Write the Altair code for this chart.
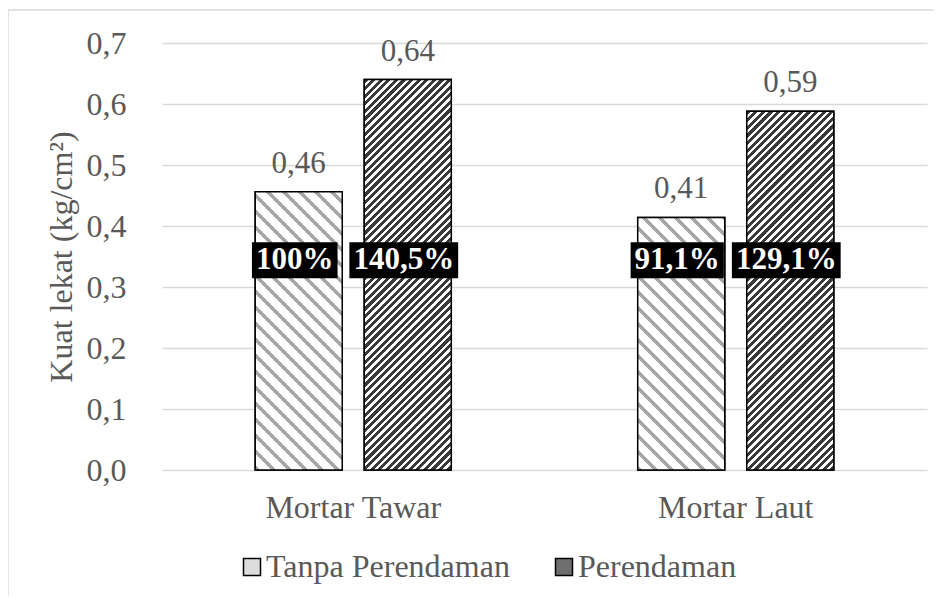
import math
import altair as alt
import pandas as pd

# ---- data ----
groups = ["Mortar Tawar", "Mortar Tawar", "Mortar Laut", "Mortar Laut"]
series = ["Tanpa Perendaman", "Perendaman", "Tanpa Perendaman", "Perendaman"]
values = [0.456, 0.640, 0.414, 0.588]
value_labels = ["0,46", "0,64", "0,41", "0,59"]
pct_labels = ["100%", "140,5%", "91,1%", "129,1%"]

group_order = ["Mortar Tawar", "Mortar Laut"]
series_order = ["Tanpa Perendaman", "Perendaman"]
y_ticks = [0.0, 0.1, 0.2, 0.3, 0.4, 0.5, 0.6, 0.7]

# ---- style ----
FONT = "'Liberation Serif', Tinos, 'Times New Roman', Times, 'DejaVu Serif', serif"
GREY_TXT = "#595959"
W, H = 765, 427
YMAX = 0.7
PX = H / YMAX
BAR_W = 87
PCT_LEVEL = 0.344

df = pd.DataFrame({"group": groups, "series": series, "value": values,
                   "vlabel": value_labels, "plabel": pct_labels})
df["idx"] = list(range(len(df)))


def box_path(label, fs=31, pad=4, dx=-4, half_h=18):
    em = sum(1.0 if ch == "%" else 0.25 if ch == "," else 0.5 for ch in label)
    w = em * fs + 2 * pad
    l, r = -w / 2 + dx, w / 2 + dx
    return f"M{l:.1f},{-half_h}H{r:.1f}V{half_h}H{l:.1f}Z"


df["box"] = df["plabel"].map(box_path)


def hatch(h, period, frac, fg, bg, direction):
    w = BAR_W
    n = (w + h) / period
    k = (w + h) / (w * w + h * h)
    if direction == "down":
        x1, y1, x2, y2 = 0, 1, k * w, 1 - k * h
    else:
        x1, y1, x2, y2 = 0, 0, k * w, k * h
    stops = []
    for i in range(int(math.ceil(n))):
        a = min(i / n, 1)
        b = min((i + frac) / n, 1)
        c = min((i + 1) / n, 1)
        stops += [alt.GradientStop(offset=round(a, 5), color=fg),
                  alt.GradientStop(offset=round(b, 5), color=fg),
                  alt.GradientStop(offset=round(b, 5), color=bg),
                  alt.GradientStop(offset=round(c, 5), color=bg)]
    return alt.LinearGradient(gradient="linear", stops=stops,
                              x1=x1, y1=y1, x2=round(x2, 5), y2=round(y2, 5))


x_enc = alt.X("group:N", sort=group_order, title=None,
              scale=alt.Scale(domain=group_order, paddingInner=0, paddingOuter=0),
              axis=alt.Axis(labelFont=FONT, labelFontSize=32, labelColor=GREY_TXT,
                            labelPadding=47, labelBaseline="alphabetic", labelAngle=0,
                            labelLimit=0, domain=False, ticks=False, grid=False))
xo_enc = alt.XOffset("series:N", sort=series_order,
                     scale=alt.Scale(domain=series_order, paddingInner=0.2018,
                                     paddingOuter=0.855))
y_enc = alt.Y("value:Q", title="Kuat lekat (kg/cm²)",
              scale=alt.Scale(domain=[0, YMAX], nice=False, zero=True),
              axis=alt.Axis(values=y_ticks,
                            labelExpr="replace(format(datum.value, '.1f'), '.', ',')",
                            labelFont=FONT, labelFontSize=32, labelColor=GREY_TXT,
                            labelPadding=36, domain=False, ticks=False,
                            grid=True, gridColor="#d9d9d9", gridWidth=1.5,
                            titleFont=FONT, titleFontSize=32, titleFontWeight="normal",
                            titleColor=GREY_TXT, titleAngle=270, titleX=-91,
                            titleY=H / 2, titleAlign="center",
                            titleBaseline="alphabetic"))

base = alt.Chart(df).encode(x=x_enc, xOffset=xo_enc)

legend_bars = base.mark_bar(stroke="black", strokeWidth=1.5).encode(
    y=y_enc,
    fill=alt.Fill("series:N", sort=series_order,
                  scale=alt.Scale(domain=series_order, range=["#dcdcdc", "#6e6e6e"]),
                  legend=alt.Legend(title=None, orient="none", legendX=74, legendY=508,
                                    direction="horizontal", symbolType="square",
                                    symbolSize=289, symbolStrokeColor="black",
                                    symbolStrokeWidth=1.5, symbolOpacity=1,
                                    labelFont=FONT, labelFontSize=32,
                                    labelColor=GREY_TXT, labelOffset={"expr": "-2"},
                                    labelLimit=0, columnPadding=38, padding=0)))

layers = [legend_bars]
for i in range(len(df)):
    h = values[i] * PX
    if series[i] == "Tanpa Perendaman":
        grad = hatch(h, 16, 0.32, "#a6a6a6", "#ffffff", "down")
    else:
        grad = hatch(h, 7.6, 0.55, "#3a3a3a", "#ffffff", "up")
    layers.append(
        base.transform_filter(alt.datum.idx == i)
        .mark_bar(fill=grad, stroke="black", strokeWidth=1.5)
        .encode(y=y_enc)
    )

value_text = base.mark_text(font=FONT, fontSize=31, color=GREY_TXT, dy=-19,
                            baseline="alphabetic").encode(y=y_enc, text="vlabel:N")

boxes = base.mark_point(filled=True, color="black", fill="black", opacity=1,
                        strokeWidth=0, size=4).encode(
    y=alt.datum(PCT_LEVEL), shape=alt.Shape("box:N", scale=None, legend=None))

pct_text = base.mark_text(font=FONT, fontSize=31, fontWeight="bold", color="white",
                          dx=-4, baseline="middle").encode(
    y=alt.datum(PCT_LEVEL), text="plabel:N")

frame_df = pd.DataFrame({"k": [0]})
frame_left = alt.Chart(frame_df).mark_rule(color="#d9d9d9", strokeWidth=1.5).encode(
    x=alt.value(-154), y=alt.value(-33), y2=alt.value(H + 140))
frame_top = alt.Chart(frame_df).mark_rule(color="#d9d9d9", strokeWidth=1.5).encode(
    x=alt.value(-154), x2=alt.value(W + 10), y=alt.value(-33))

layers += [value_text, boxes, pct_text, frame_left, frame_top]

chart = alt.layer(*layers).properties(
    width=W, height=H,
    autosize=alt.AutoSizeParams(type="none"),
    padding={"left": 154, "top": 35, "right": 7, "bottom": 126},
    background="white",
).configure(font=FONT, view=alt.ViewConfig(stroke=None))

chart.save("out.html", embed_options={"renderer": "svg", "actions": False})
